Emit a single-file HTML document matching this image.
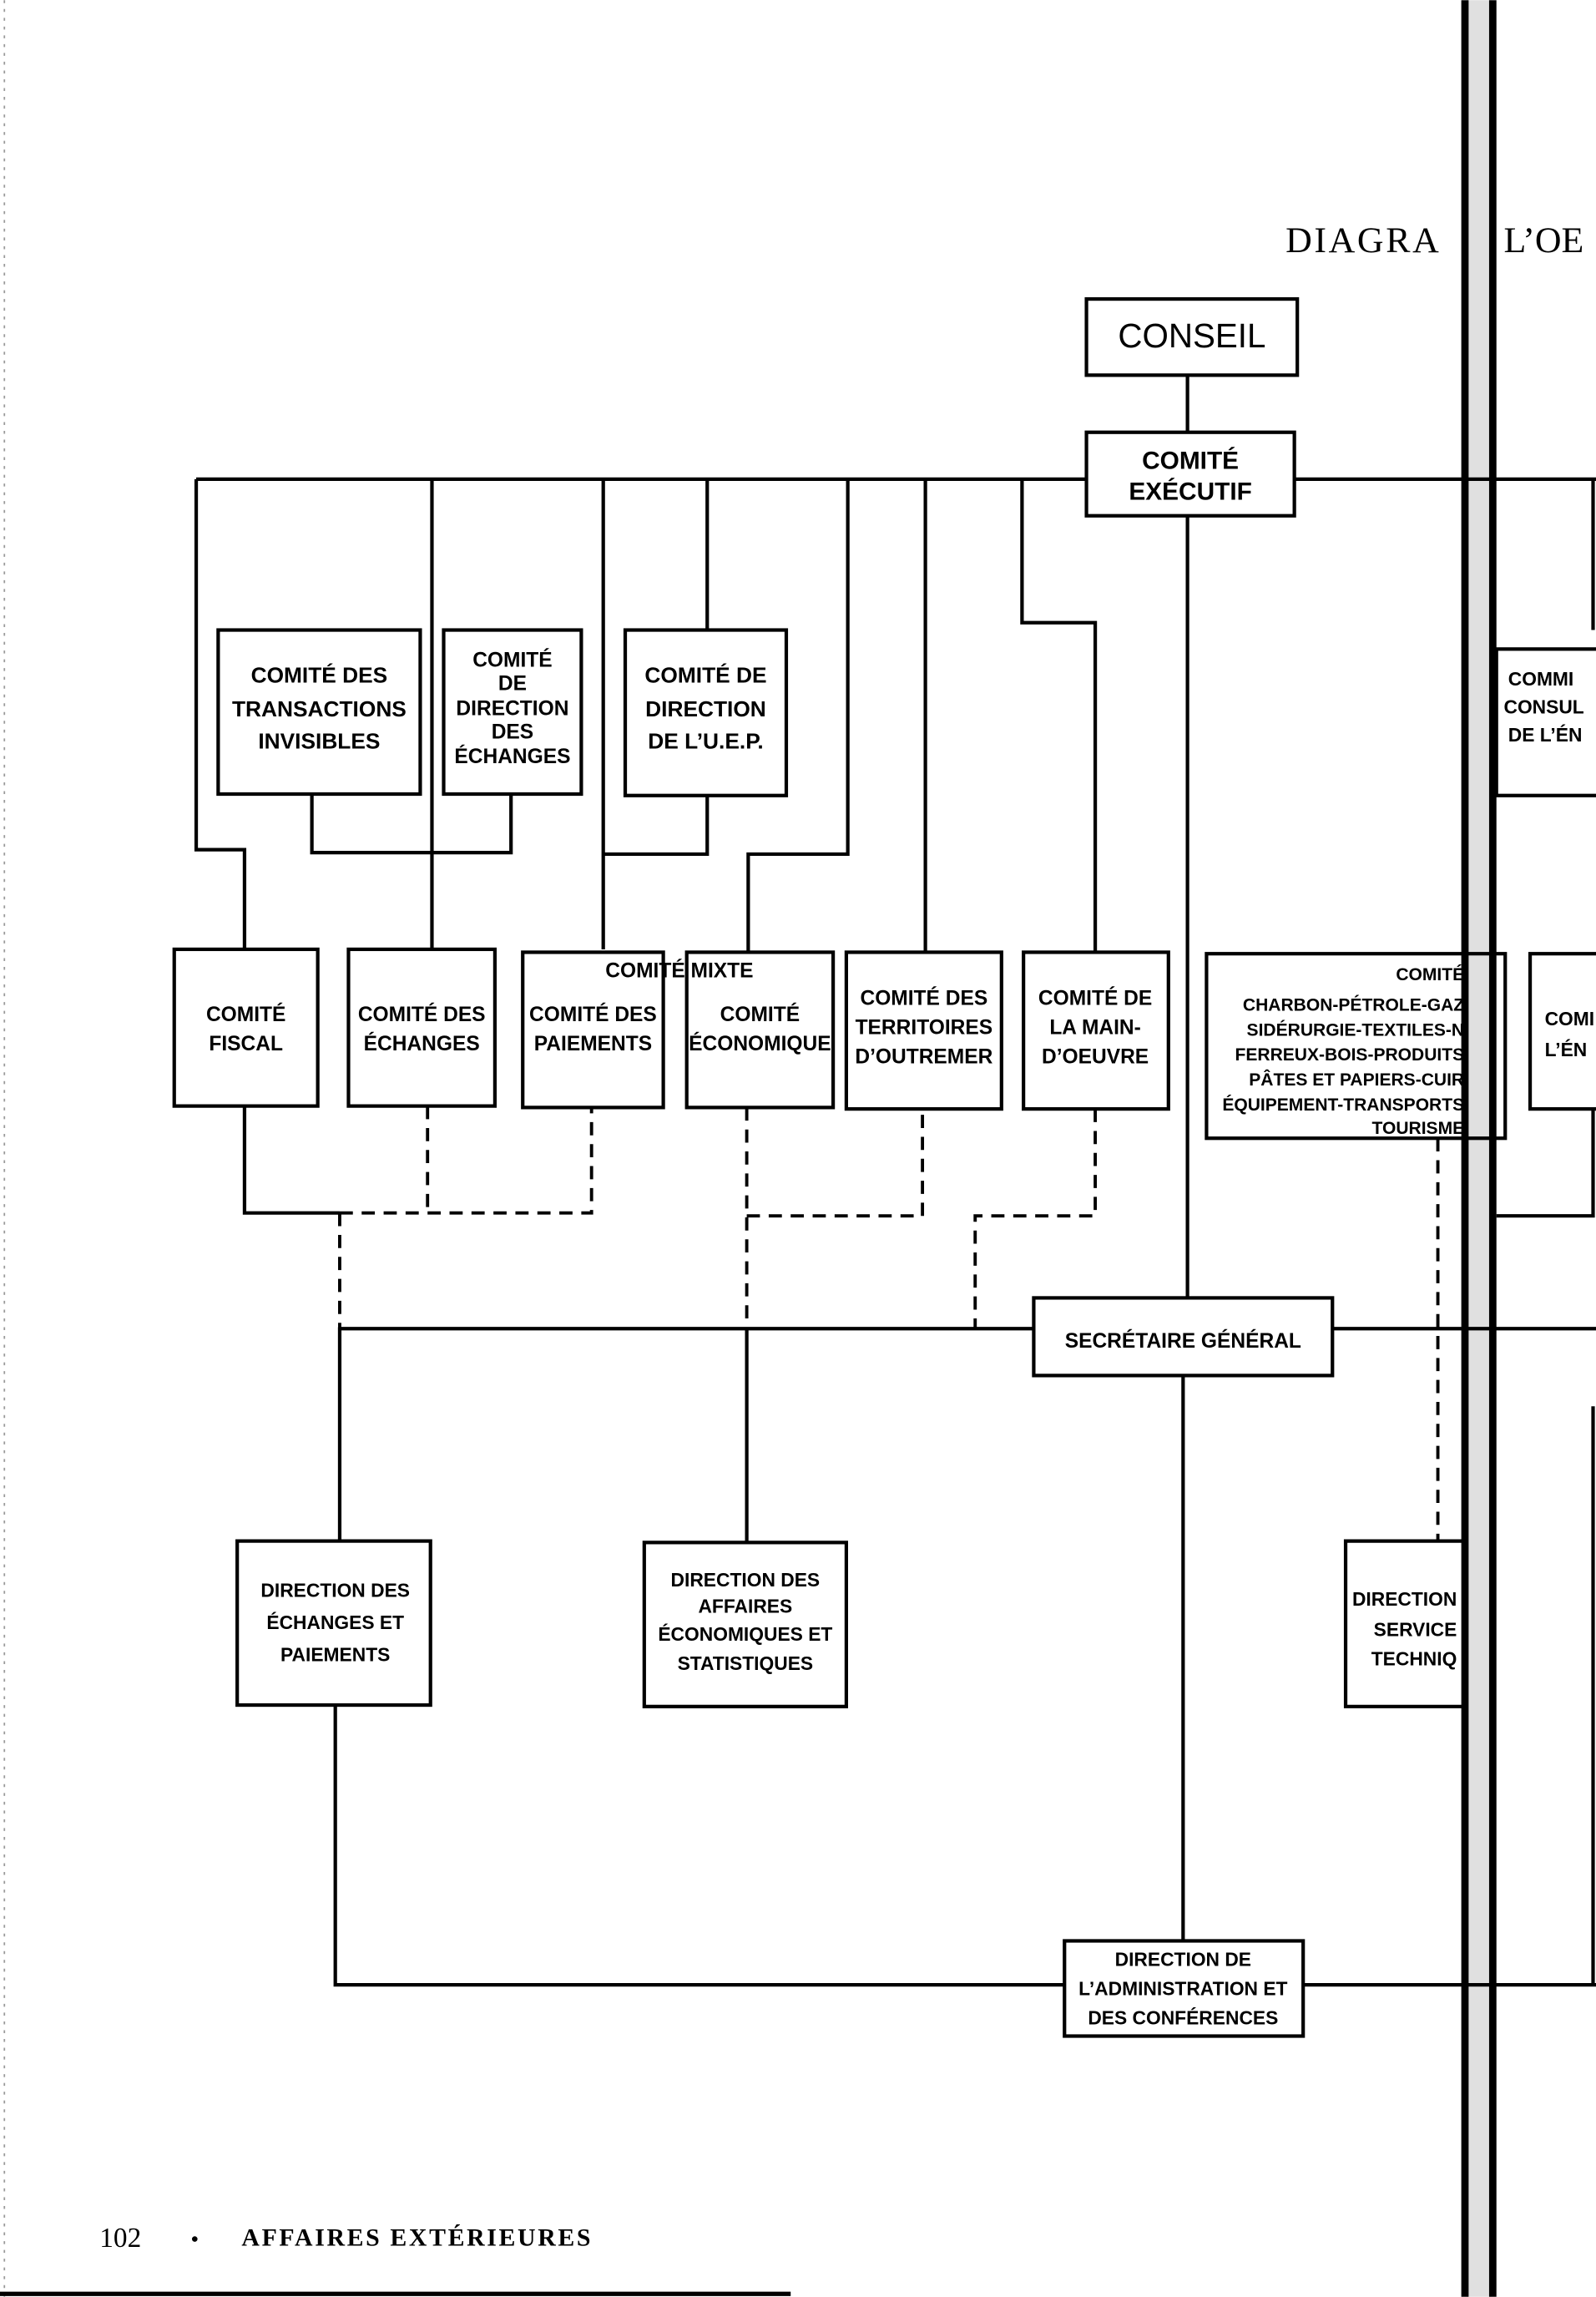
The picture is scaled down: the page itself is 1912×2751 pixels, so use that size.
<!DOCTYPE html>
<html><head><meta charset="utf-8"><style>
html,body{margin:0;padding:0;background:#fff;}
svg{display:block;}
text{font-family:"Liberation Sans Narrow","Liberation Sans",sans-serif;font-weight:bold;fill:#000;text-anchor:middle;}
.s{font-family:"Liberation Serif",serif;font-weight:bold;}
</style></head><body>
<svg width="1912" height="2751" viewBox="0 0 1090 1568" xmlns="http://www.w3.org/2000/svg">
<rect width="1090" height="1568" fill="#fff"/>
<line x1="3" y1="0" x2="3" y2="1568" stroke="#999" stroke-width="1" stroke-dasharray="2 4"/>
<rect x="1001" y="0" width="18" height="1568" fill="#e0e0e0"/>
<rect x="998" y="0" width="5" height="1568" fill="#000"/>
<rect x="1017" y="0" width="5" height="1568" fill="#000"/>
<line x1="0" y1="1566" x2="540" y2="1566" stroke="#000" stroke-width="3"/>

<text class="s" x="878" y="172" style="text-anchor:start;font-size:25px;font-weight:normal;letter-spacing:1.5px">DIAGRA</text>
<text class="s" x="1027" y="172" style="text-anchor:start;font-size:25px;font-weight:normal">L’OE</text>

<g fill="none" stroke="#000" stroke-width="2.4">
<rect x="742" y="204" width="144" height="52"/>
<rect x="742" y="295" width="142" height="57"/>
<rect x="149" y="430" width="138" height="112"/>
<rect x="303" y="430" width="94" height="112"/>
<rect x="427" y="430" width="110" height="113"/>
<rect x="119" y="648" width="98" height="107"/>
<rect x="238" y="648" width="100" height="107"/>
<rect x="357" y="650" width="96" height="106"/>
<rect x="469" y="650" width="100" height="106"/>
<rect x="578" y="650" width="106" height="107"/>
<rect x="699" y="650" width="99" height="107"/>
<rect x="824" y="651" width="204" height="126"/>
<rect x="1045" y="651" width="60" height="106"/>
<rect x="1022" y="443" width="80" height="100"/>
<rect x="706" y="886" width="204" height="53"/>
<rect x="162" y="1052" width="132" height="112"/>
<rect x="440" y="1053" width="138" height="112"/>
<path d="M1000 1052 H919 V1165 H1000"/>
<rect x="727" y="1325" width="163" height="65"/>
<path d="M811 256 V295"/>
<path d="M134 327 H742 M884 327 H1090"/>
<path d="M811 352 V886"/>
<path d="M134 327 V580 H167 V648"/>
<path d="M295 327 V648"/>
<path d="M412 327 V648"/>
<path d="M483 327 V430"/>
<path d="M579 327 V583 H511 V650"/>
<path d="M632 327 V650"/>
<path d="M698 327 V425 H748 V650"/>
<path d="M213 542 V582 H349 V542"/>
<path d="M483 543 V583 H412"/>
<path d="M1088 327 V430"/>
<path d="M1088 757 V830 H1022"/>
<path d="M167 755 V828 H232"/>
<path d="M232 906 V1052"/>
<path d="M232 907 H706 M910 907 H1090"/>
<path d="M510 906 V1053"/>
<path d="M808 939 V1325"/>
<path d="M229 1164 V1355 H727 M890 1355 H1090"/>
<path d="M1088 960 V1355"/>
</g>
<g fill="none" stroke="#000" stroke-width="2.2" stroke-dasharray="9 6">
<path d="M232 828 H404 V756"/>
<path d="M292 755 V828"/>
<path d="M232 828 V906"/>
<path d="M510 756 V906"/>
<path d="M510 830 H630 V757"/>
<path d="M748 757 V830 H666 V907"/>
<path d="M982 777 V1052"/>
</g>

<text x="814" y="237" style="font-size:23px;font-weight:normal;font-family:'Liberation Sans',sans-serif">CONSEIL</text>
<g style="font-family:'Liberation Sans',sans-serif;font-size:17px;font-weight:normal">
<text x="813" y="320">COMITÉ</text><text x="813" y="341">EXÉCUTIF</text>
</g>
<g style="font-size:15px;font-family:'Liberation Sans',sans-serif;font-weight:bold">
<text x="218" y="466">COMITÉ DES</text><text x="218" y="489">TRANSACTIONS</text><text x="218" y="511">INVISIBLES</text>
<text x="482" y="466">COMITÉ DE</text><text x="482" y="489">DIRECTION</text><text x="482" y="511">DE L’U.E.P.</text>
</g>
<g style="font-size:14px;font-family:'Liberation Sans',sans-serif;font-weight:bold">
<text x="350" y="455">COMITÉ</text><text x="350" y="471">DE</text><text x="350" y="488">DIRECTION</text><text x="350" y="504">DES</text><text x="350" y="521">ÉCHANGES</text>
</g>
<g style="font-size:14px">
<text x="464" y="667">COMITÉ MIXTE</text>
<text x="168" y="697">COMITÉ</text><text x="168" y="717">FISCAL</text>
<text x="288" y="697">COMITÉ DES</text><text x="288" y="717">ÉCHANGES</text>
<text x="405" y="697">COMITÉ DES</text><text x="405" y="717">PAIEMENTS</text>
<text x="519" y="697">COMITÉ</text><text x="519" y="717">ÉCONOMIQUE</text>
<text x="631" y="686">COMITÉ DES</text><text x="631" y="706">TERRITOIRES</text><text x="631" y="726">D’OUTREMER</text>
<text x="748" y="686">COMITÉ DE</text><text x="748" y="706">LA MAIN-</text><text x="748" y="726">D’OEUVRE</text>
</g>
<g style="font-size:12px">
<text x="1000" y="669" style="text-anchor:end">COMITÉ</text>
<text x="1000" y="690" style="text-anchor:end">CHARBON-PÉTROLE-GAZ</text>
<text x="1000" y="707" style="text-anchor:end">SIDÉRURGIE-TEXTILES-N</text>
<text x="1000" y="724" style="text-anchor:end">FERREUX-BOIS-PRODUITS</text>
<text x="1000" y="741" style="text-anchor:end">PÂTES ET PAPIERS-CUIR</text>
<text x="1000" y="758" style="text-anchor:end">ÉQUIPEMENT-TRANSPORTS</text>
<text x="1000" y="774" style="text-anchor:end">TOURISME</text>
</g>
<g style="font-size:13px;font-family:'Liberation Sans',sans-serif;font-weight:normal">
<text x="1030" y="468" style="text-anchor:start">COMMI</text>
<text x="1027" y="487" style="text-anchor:start">CONSUL</text>
<text x="1030" y="506" style="text-anchor:start">DE L’ÉN</text>
<text x="1055" y="700" style="text-anchor:start">COMI</text>
<text x="1055" y="721" style="text-anchor:start">L’ÉN</text>
</g>
<g style="font-size:14px;font-family:'Liberation Sans',sans-serif">
<text x="808" y="920">SECRÉTAIRE GÉNÉRAL</text>
</g>
<g style="font-size:13px">
<text x="229" y="1090">DIRECTION DES</text><text x="229" y="1112">ÉCHANGES ET</text><text x="229" y="1134">PAIEMENTS</text>
<text x="509" y="1083">DIRECTION DES</text><text x="509" y="1101">AFFAIRES</text><text x="509" y="1120">ÉCONOMIQUES ET</text><text x="509" y="1140">STATISTIQUES</text>
<text x="808" y="1342">DIRECTION DE</text><text x="808" y="1362">L’ADMINISTRATION ET</text><text x="808" y="1382">DES CONFÉRENCES</text>
<text x="995" y="1096" style="text-anchor:end">DIRECTION</text><text x="995" y="1117" style="text-anchor:end">SERVICE</text><text x="995" y="1137" style="text-anchor:end">TECHNIQ</text>
</g>
<text class="s" x="68" y="1534" style="text-anchor:start;font-size:19px;font-weight:normal">102</text>
<text class="s" x="133" y="1533" style="font-size:14px">•</text>
<text class="s" x="165" y="1533" style="text-anchor:start;font-size:17px;letter-spacing:1.5px">AFFAIRES  EXTÉRIEURES</text>
</svg>
</body></html>
